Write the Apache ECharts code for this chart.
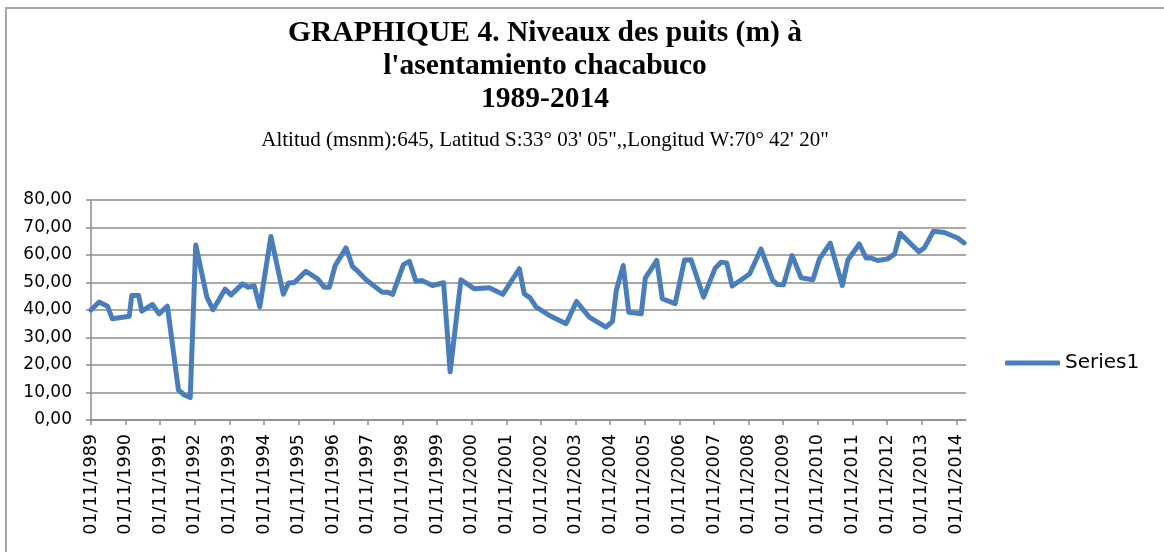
<!DOCTYPE html>
<html>
<head>
<meta charset="utf-8">
<script src="https://cdn.jsdelivr.net/npm/echarts@6/dist/echarts.min.js"></script>
<style>
  html, body { margin: 0; padding: 0; background: #fff; }
  #frame { position: absolute; left: 5px; top: 7px; width: 1170px; height: 560px; border: 2px solid #a6a6a6; box-sizing: border-box; }
  #chart { position: absolute; left: 0; top: 0; width: 1164px; height: 552px; }
</style>
</head>
<body>
<div id="frame"></div>
<div id="chart"></div>
<script>
// fecha en años decimales (inicio 01/11/1989)
const fechas = [
  1989.83, 1990.07, 1990.31, 1990.45, 1990.94, 1991.01, 1991.21, 1991.30, 1991.61, 1991.80,
  1992.04, 1992.36, 1992.53, 1992.70, 1992.86, 1993.18, 1993.36, 1993.71, 1993.88, 1994.21,
  1994.36, 1994.55, 1994.71, 1995.03, 1995.39, 1995.54, 1995.71, 1996.04, 1996.38, 1996.57,
  1996.72, 1996.89, 1997.20, 1997.39, 1997.54, 1997.78, 1998.24, 1998.40, 1998.55, 1998.86,
  1999.03, 1999.22, 1999.39, 1999.70, 2000.02, 2000.21, 2000.52, 2000.91, 2001.34, 2001.73,
  2002.21, 2002.35, 2002.52, 2002.69, 2003.08, 2003.56, 2003.86, 2004.23, 2004.71, 2004.90,
  2005.01, 2005.21, 2005.37, 2005.73, 2005.85, 2006.18, 2006.34, 2006.71, 2006.98, 2007.17,
  2007.53, 2007.87, 2008.04, 2008.20, 2008.36, 2008.62, 2008.86, 2009.19, 2009.53, 2009.67,
  2009.84, 2010.09, 2010.35, 2010.69, 2010.88, 2011.19, 2011.54, 2011.70, 2012.03, 2012.23,
  2012.37, 2012.56, 2012.85, 2013.05, 2013.21, 2013.75, 2013.91, 2014.17, 2014.49, 2014.87,
  2015.06
];
const niveles = [
  40.0, 42.9, 41.4, 36.8, 37.7, 45.3, 45.3, 39.6, 42.0, 38.6,
  41.4, 10.9, 9.1, 8.2, 63.6, 44.7, 40.1, 47.6, 45.5, 49.5,
  48.3, 48.7, 41.1, 66.7, 45.7, 49.8, 50.0, 54.1, 51.3, 48.3,
  48.3, 56.2, 62.6, 55.8, 54.1, 51.0, 46.5, 46.5, 45.7, 56.5,
  57.7, 50.5, 50.7, 48.9, 49.9, 17.5, 51.0, 47.7, 48.1, 45.7,
  55.0, 45.9, 44.4, 41.1, 38.0, 35.0, 43.1, 37.4, 33.8, 35.9,
  47.1, 56.2, 39.2, 38.6, 51.7, 58.0, 44.1, 42.3, 58.2, 58.3,
  44.7, 55.3, 57.4, 57.1, 48.7, 51.0, 53.1, 62.2, 50.7, 49.3,
  49.2, 59.8, 51.7, 51.0, 58.6, 64.3, 48.9, 58.2, 64.0, 58.9,
  58.9, 58.0, 58.6, 60.4, 67.9, 61.2, 62.6, 68.6, 68.2, 66.2,
  64.4
];
const anioInicio = 1989;
const inicio = 1989 + 10 / 12;

const chart = echarts.init(document.getElementById('chart'));
const gris = '#8c8c8c';
const azul = '#4a7ebb';
const fuente = 'DejaVu Sans';

chart.setOption({
  animation: false,
  title: [
    {
      text: "GRAPHIQUE 4. Niveaux des puits (m) à\nl'asentamiento chacabuco\n1989-2014",
      left: 545, top: 17, textAlign: 'center', padding: 0,
      textStyle: { fontFamily: 'Liberation Serif', fontWeight: 'bold', fontSize: 29.5, lineHeight: 33, color: '#000' }
    },
    {
      text: 'Altitud (msnm):645, Latitud S:33° 03\' 05",,Longitud W:70° 42\' 20"',
      left: 545, top: 130, textAlign: 'center', padding: 0,
      textStyle: { fontFamily: 'Liberation Serif', fontWeight: 'normal', fontSize: 21, color: '#000' }
    }
  ],
  legend: {
    left: 1005, top: 353, padding: 0,
    icon: 'roundRect',
    itemWidth: 55, itemHeight: 5,
    itemStyle: { color: azul },
    textStyle: { fontFamily: fuente, fontSize: 20, color: '#000' }
  },
  grid: { left: 91, right: 198, top: 200, bottom: 132 },
  xAxis: {
    type: 'value', min: 0, max: 25.28, interval: 1,
    axisLine: { lineStyle: { color: gris, width: 1.5 } },
    axisTick: { show: true, length: 5, lineStyle: { color: gris, width: 1.5 } },
    splitLine: { show: false },
    axisLabel: {
      rotate: 90, margin: 14, showMaxLabel: false,
      fontFamily: fuente, fontSize: 17.5, color: '#000',
      formatter: v => '01/11/' + (anioInicio + Math.round(v))
    }
  },
  yAxis: {
    type: 'value', min: 0, max: 80, interval: 10,
    axisLine: { show: true, lineStyle: { color: gris, width: 1.5 } },
    axisTick: { show: true, length: 5, lineStyle: { color: gris, width: 1.5 } },
    splitLine: { lineStyle: { color: gris, width: 1.5 } },
    axisLabel: {
      margin: 19, fontFamily: fuente, fontSize: 17, color: '#000',
      formatter: v => v.toFixed(2).replace('.', ',')
    }
  },
  series: [{
    name: 'Series1',
    type: 'line',
    symbol: 'none',
    data: fechas.map((f, i) => [f - inicio, niveles[i]]),
    lineStyle: { color: azul, width: 5, join: 'round', cap: 'round' },
    itemStyle: { color: azul }
  }]
});
</script>
</body>
</html>
